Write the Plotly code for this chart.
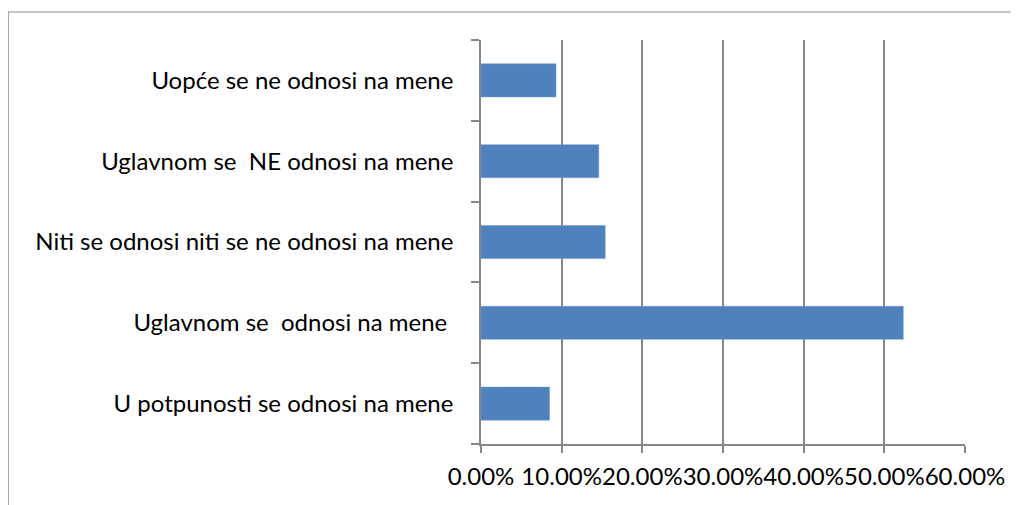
import plotly.graph_objects as go

categories = [
    "U potpunosti se odnosi na mene",
    "Uglavnom se\u00a0 odnosi na mene\u00a0",
    "Niti se odnosi niti se ne odnosi na mene",
    "Uglavnom se\u00a0 NE odnosi na mene",
    "Uopće se ne odnosi na mene",
]
values = [0.085, 0.5235, 0.154, 0.146, 0.093]
tick_vals = [0, 0.1, 0.2, 0.3, 0.4, 0.5, 0.6]

# page body has an 8px margin, so the figure is offset by 8px
OFF = 8
W, H = 1019 - OFF, 505 - OFF
L, R, T, B = 481 - OFF, 54, 40 - OFF, 61
pw, ph = W - L - R, H - T - B

def px_x(p):
    return (p - OFF - L) / pw

def px_y(p):
    return (H - B - (p - OFF)) / ph

fig = go.Figure(go.Bar(
    x=values, y=categories, orientation="h",
    marker=dict(color="#4F81BD", line=dict(color="#6f9bd0", width=0.5)),
    width=0.41,
))

axis_col = "#878787"
font = dict(family="Lato", size=24, color="#000000")

fig.update_layout(
    width=W, height=H,
    margin=dict(l=L, r=R, t=T, b=B, autoexpand=False),
    paper_bgcolor="white", plot_bgcolor="white",
    font=font,
    showlegend=False,
    xaxis=dict(
        range=[0, 0.6], tickvals=tick_vals, tickformat=".2%", tickangle=0,
        showgrid=True, gridcolor=axis_col, gridwidth=1.5,
        zeroline=False, showline=True, linecolor=axis_col, linewidth=1.5,
        ticks="outside", ticklen=7, tickcolor=axis_col, tickwidth=1.5,
        tickfont=font, automargin=False, ticklabelstandoff=3,
    ),
    yaxis=dict(
        showgrid=False, zeroline=False, showline=True, linecolor=axis_col, linewidth=1.5,
        ticks="outside", tickson="boundaries", ticklen=8, tickcolor=axis_col, tickwidth=1.5,
        tickfont=font, ticklabelstandoff=21, automargin=False,
    ),
    shapes=[
        dict(type="line", xref="paper", yref="paper",
             x0=px_x(8), x1=px_x(1030), y0=px_y(12), y1=px_y(12),
             line=dict(color="#8c8c8c", width=1)),
        dict(type="line", xref="paper", yref="paper",
             x0=px_x(8), x1=px_x(8), y0=px_y(12), y1=px_y(520),
             line=dict(color="#8c8c8c", width=1.5)),
    ],
)

fig.write_html("out.html")
